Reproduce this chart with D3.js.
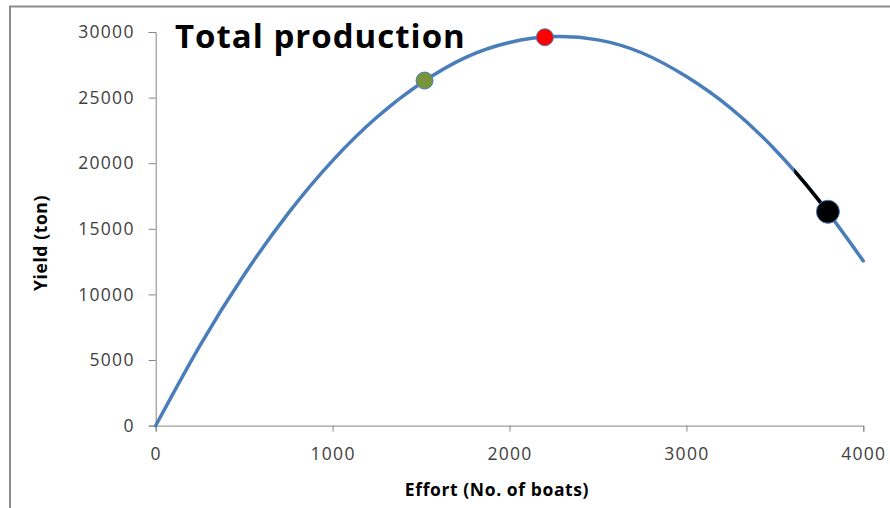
<!DOCTYPE html>
<html>
<head>
<meta charset="utf-8">
<script src="https://cdn.jsdelivr.net/npm/d3@7/dist/d3.min.js"></script>
<style>
  html, body { margin: 0; padding: 0; background: #fff; }
  svg { display: block; }
  .tick-label { font-family: "Open Sans", sans-serif; font-size: 17.5px; fill: #404040; letter-spacing: 1.3px; }
  .axis-title { font-family: "Open Sans", sans-serif; font-weight: 700; font-size: 17.5px; fill: #000; letter-spacing: 0.6px; }
  .chart-title { font-family: "Open Sans", sans-serif; font-weight: 700; font-size: 33px; fill: #000; letter-spacing: 1px; }
</style>
</head>
<body>
<svg id="chart" width="890" height="508"></svg>
<script>
// Yield curve: fishing effort (boats) against total yield (tonnes)
const effort = [0, 250, 500, 750, 1000, 1250, 1500, 1750, 2000, 2250, 2500, 2750, 3000, 3250, 3500, 3750, 4000];
const yieldTon = [0, 6100, 11500, 16200, 20200, 23500, 26100, 28050, 29200, 29650, 29400, 28400, 26600, 24200, 21050, 17150, 12550];

// Highlighted stretch of the curve
const segmentRange = [3610, 3800];

// Marked operating points
const markerEffort = [1520, 2200, 3800];
const markerYield = [26300, 29600, 16300];
const markerColor = ["#77933C", "#FF0000", "#000000"];
const markerRadius = [8.5, 8.5, 11.5];

const xTicks = [0, 1000, 2000, 3000, 4000];
const yTicks = [0, 5000, 10000, 15000, 20000, 25000, 30000];

const svg = d3.select("#chart");

// Outer frame
svg.append("rect")
  .attr("x", 10).attr("y", 6.5)
  .attr("width", 900).attr("height", 520)
  .attr("fill", "none").attr("stroke", "#8c8c8c").attr("stroke-width", 2);

const x = d3.scaleLinear().domain([0, 4000]).range([155.7, 863.3]);
const y = d3.scaleLinear().domain([0, 30000]).range([425.6, 32]);

// Axes
const xAxis = svg.append("g")
  .attr("transform", `translate(0,${y(0)})`)
  .call(d3.axisBottom(x).tickValues(xTicks).tickSize(6).tickPadding(16).tickFormat(d3.format("d")));
const yAxis = svg.append("g")
  .attr("transform", `translate(${x(0)},0)`)
  .call(d3.axisLeft(y).tickValues(yTicks).tickSize(7).tickPadding(14).tickFormat(d3.format("d")));

[xAxis, yAxis].forEach(g => {
  g.select(".domain").attr("stroke", "#868686").attr("stroke-width", 1);
  g.selectAll(".tick line").attr("stroke", "#868686").attr("stroke-width", 1);
  g.selectAll(".tick text").attr("class", "tick-label").attr("font-size", null).attr("font-family", null).attr("fill", null);
});

// Curve
const data = effort.map((e, i) => ({ e, v: yieldTon[i] }));
const line = d3.line()
  .x(d => x(d.e))
  .y(d => y(d.v))
  .curve(d3.curveNatural);

svg.append("path")
  .datum(data)
  .attr("d", line)
  .attr("fill", "none")
  .attr("stroke", "#4A7EBB")
  .attr("stroke-width", 3.5)
  .attr("stroke-linecap", "round");

// Highlighted stretch drawn from the same curve through a clip
svg.append("clipPath").attr("id", "segClip")
  .append("rect")
  .attr("x", x(segmentRange[0])).attr("y", 0)
  .attr("width", x(segmentRange[1]) - x(segmentRange[0])).attr("height", 508);

svg.append("path")
  .datum(data)
  .attr("d", line)
  .attr("clip-path", "url(#segClip)")
  .attr("fill", "none")
  .attr("stroke", "#000")
  .attr("stroke-width", 3.5);

// Markers
svg.selectAll("circle.marker")
  .data(markerEffort.map((e, i) => ({ e, v: markerYield[i], c: markerColor[i], r: markerRadius[i] })))
  .join("circle")
  .attr("class", "marker")
  .attr("cx", d => x(d.e))
  .attr("cy", d => y(d.v))
  .attr("r", d => d.r)
  .attr("fill", d => d.c)
  .attr("stroke", "#4A7EBB")
  .attr("stroke-width", 1);

// Titles
svg.append("text").attr("class", "chart-title")
  .attr("x", 175).attr("y", 48)
  .text("Total production");

svg.append("text").attr("class", "axis-title")
  .attr("x", 497).attr("y", 496)
  .attr("text-anchor", "middle")
  .text("Effort (No. of boats)");

svg.append("text").attr("class", "axis-title")
  .attr("transform", "translate(47,243) rotate(-90)")
  .attr("text-anchor", "middle")
  .text("Yield (ton)");
</script>
</body>
</html>
